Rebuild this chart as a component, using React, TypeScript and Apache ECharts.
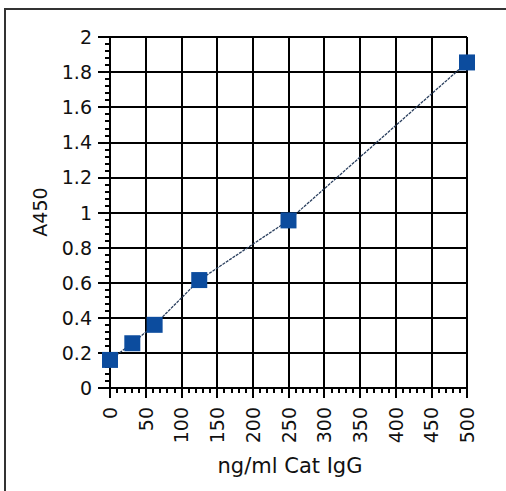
import React, { useEffect, useRef } from "react";
import * as echarts from "echarts";

const concentrations = [0, 31.25, 62.5, 125, 250, 500];
const absorbance = [0.16, 0.255, 0.36, 0.615, 0.955, 1.855];
const xAxisTitle = "ng/ml Cat IgG";
const yAxisTitle = "A450";

export default function App() {
  const ref = useRef<HTMLDivElement>(null);
  useEffect(() => {
    if (!ref.current) return;
    const chart = echarts.init(ref.current, undefined, { renderer: "svg" });
    const font = "'DejaVu Sans', sans-serif";
    chart.setOption({
      animation: false,
      backgroundColor: "#ffffff",
      grid: { left: 110, top: 37, right: 39, bottom: 103, containLabel: false },
      xAxis: {
        type: "value",
        min: 0,
        max: 500,
        interval: 50,
        axisLine: { show: true, lineStyle: { color: "#000", width: 2 } },
        axisTick: { show: true, length: 10, lineStyle: { color: "#000", width: 2 } },
        minorTick: { show: true, splitNumber: 5, length: 5, lineStyle: { color: "#000", width: 2 } },
        splitLine: { show: true, lineStyle: { color: "#000", width: 2 } },
        axisLabel: {
          rotate: 90,
          margin: 19,
          color: "#111",
          fontSize: 19,
          fontFamily: font,
        },
      },
      yAxis: {
        type: "value",
        min: 0,
        max: 2,
        interval: 0.2,
        axisLine: { show: true, lineStyle: { color: "#000", width: 2 } },
        axisTick: { show: true, length: 12, lineStyle: { color: "#000", width: 2 } },
        minorTick: { show: true, splitNumber: 5, length: 5, lineStyle: { color: "#000", width: 2 } },
        splitLine: { show: true, lineStyle: { color: "#000", width: 2 } },
        axisLabel: {
          margin: 18,
          color: "#111",
          fontSize: 19,
          fontFamily: font,
        },
      },
      graphic: [
        {
          type: "rect",
          shape: { x: 5, y: 9, width: 700, height: 700 },
          style: { fill: "none", stroke: "#333", lineWidth: 2 },
          silent: true,
        },
        {
          type: "text",
          x: 290,
          y: 466,
          style: {
            text: xAxisTitle,
            fontSize: 21,
            fontFamily: font,
            fill: "#111",
            align: "center",
            verticalAlign: "middle",
          },
        },
        {
          type: "text",
          x: 40,
          y: 212,
          rotation: Math.PI / 2,
          style: {
            text: yAxisTitle,
            fontSize: 19,
            fontFamily: font,
            fill: "#111",
            align: "center",
            verticalAlign: "middle",
          },
        },
      ],
      series: [
        {
          type: "line",
          data: concentrations.map((c, i) => [c, absorbance[i]]),
          symbol: "rect",
          symbolSize: 16,
          itemStyle: { color: "#0c4c9e" },
          lineStyle: { color: "#2a3f5e", width: 1.3, type: [3, 1] },
          z: 5,
        },
      ],
    });
    return () => chart.dispose();
  }, []);
  return (
    <div
      ref={ref}
      style={{ position: "fixed", left: 0, top: 0, width: 506, height: 491 }}
    />
  );
}
